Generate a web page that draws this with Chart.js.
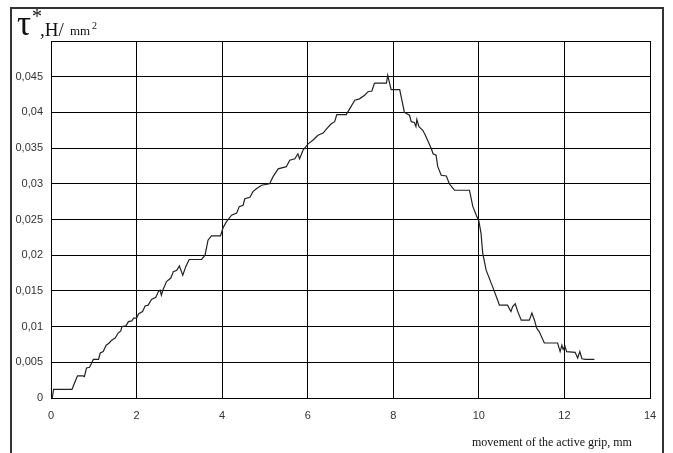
<!DOCTYPE html>
<html lang="en">
<head>
    <meta charset="UTF-8">
    <title>Shear stress vs grip movement</title>
    <script src="https://cdn.jsdelivr.net/npm/chart.js"></script>
    <style>
        body {
            margin: 0;
            background-color: #ffffff;
        }
        #wrap {
            position: relative;
            width: 673px;
            height: 453px;
            overflow: hidden;
        }
        #frame {
            position: absolute;
            left: 10px;
            top: 7px;
            width: 654px;
            height: 470px;
            box-sizing: border-box;
            border: 2px solid #333;
        }
        .lbl {
            position: absolute;
            font-family: 'Liberation Serif', 'Times New Roman', serif;
            line-height: 1;
            color: #111;
            white-space: nowrap;
        }
    </style>
</head>
<body>
<div id="wrap">
    <div id="frame"></div>
    <canvas id="chart"></canvas>
    <span class="lbl" style="left:17px; top:6px; font-size:35px;">τ</span>
    <span class="lbl" style="left:32px; top:6px; font-size:20px;">*</span>
    <span class="lbl" style="left:40px; top:20px; font-size:19px;">,H/</span>
    <span class="lbl" style="left:70px; top:24px; font-size:13px;">mm</span>
    <span class="lbl" style="left:92px; top:21px; font-size:10px;">2</span>
    <span class="lbl" style="left:472px; top:436px; font-size:12px;">movement of the active grip, mm</span>
</div>

<script>
    // movement of the active grip, mm
    const gripMovement = [
        0, 0.03, 0.06, 0.49, 0.55, 0.62, 0.75, 0.78, 0.83, 0.9,
        0.95, 0.99, 1.11, 1.15, 1.22, 1.29, 1.36, 1.42, 1.5, 1.57,
        1.63, 1.66, 1.75, 1.81, 1.89, 1.93, 2.0, 2.05, 2.14, 2.2,
        2.27, 2.35, 2.45, 2.51, 2.55, 2.58, 2.62, 2.7, 2.8, 2.86,
        2.94, 3.0, 3.08, 3.15, 3.23, 3.52, 3.6, 3.67, 3.75, 3.96,
        4.02, 4.1, 4.22, 4.34, 4.4, 4.49, 4.53, 4.65, 4.72, 4.8,
        4.92, 5.11, 5.19, 5.31, 5.5, 5.58, 5.7, 5.77, 5.81, 5.89,
        6.01, 6.12, 6.24, 6.36, 6.44, 6.55, 6.63, 6.68, 6.9, 6.98,
        7.1, 7.21, 7.33, 7.41, 7.5, 7.56, 7.84, 7.87, 7.95, 8.15,
        8.26, 8.38, 8.42, 8.49, 8.53, 8.55, 8.6, 8.69, 8.75, 8.89,
        8.93, 9.0, 9.04, 9.12, 9.24, 9.31, 9.43, 9.78, 9.86, 9.94,
        10.0, 10.05, 10.09, 10.17, 10.32, 10.44, 10.48, 10.67, 10.75, 10.79,
        10.85, 10.91, 10.99, 11.18, 11.24, 11.3, 11.35, 11.41, 11.53, 11.84,
        11.9, 11.94, 11.97, 12.01, 12.05, 12.25, 12.31, 12.36, 12.41, 12.49,
        12.7
    ];
    // tau*, H/mm2
    const shearStress = [
        0, 0, 0.0012, 0.0012, 0.0021, 0.0031, 0.0031, 0.003, 0.0042, 0.0043,
        0.0049, 0.0054, 0.0054, 0.0063, 0.0065, 0.0074, 0.0077, 0.0081, 0.0084, 0.0091,
        0.0094, 0.01, 0.0101, 0.0107, 0.0108, 0.0112, 0.0112, 0.0118, 0.0121, 0.0129,
        0.013, 0.0138, 0.0141, 0.0149, 0.0151, 0.0144, 0.0152, 0.0163, 0.0168, 0.0177,
        0.0179, 0.0185, 0.0172, 0.0184, 0.0194, 0.0194, 0.02, 0.0221, 0.0227, 0.0227,
        0.0238, 0.0247, 0.0256, 0.0259, 0.0268, 0.027, 0.0279, 0.0281, 0.0289, 0.0293,
        0.0298, 0.03, 0.031, 0.0321, 0.0324, 0.0333, 0.0335, 0.0342, 0.0335, 0.0347,
        0.0356, 0.0361, 0.0368, 0.0371, 0.0377, 0.0384, 0.0387, 0.0397, 0.0397, 0.0405,
        0.0417, 0.0419, 0.0424, 0.0429, 0.043, 0.0441, 0.0441, 0.0452, 0.0432, 0.0432,
        0.04, 0.0396, 0.0387, 0.0386, 0.038, 0.039, 0.038, 0.0375, 0.0368, 0.0349,
        0.0342, 0.034, 0.0324, 0.0312, 0.0311, 0.03, 0.0291, 0.0291, 0.0268, 0.0256,
        0.0248, 0.0231, 0.0203, 0.0179, 0.0156, 0.0137, 0.013, 0.013, 0.0121, 0.0128,
        0.0132, 0.0121, 0.0109, 0.0109, 0.0119, 0.0109, 0.0098, 0.0093, 0.0077, 0.0077,
        0.0065, 0.0074, 0.0068, 0.0073, 0.0065, 0.0064, 0.0056, 0.0065, 0.0055, 0.0054,
        0.0054
    ];

    const xTicks = [0, 2, 4, 6, 8, 10, 12, 14];
    const xTickLabels = ['0', '2', '4', '6', '8', '10', '12', '14'];
    const yTicks = [0, 0.005, 0.01, 0.015, 0.02, 0.025, 0.03, 0.035, 0.04, 0.045, 0.05];
    const yTickLabels = ['0', '0,005', '0,01', '0,015', '0,02', '0,025', '0,03', '0,035', '0,04', '0,045', ''];

    const points = gripMovement.map((x, i) => ({ x: x, y: shearStress[i] }));

    Chart.defaults.font.family = "'Liberation Sans', Arial, sans-serif";
    Chart.defaults.font.size = 11;
    Chart.defaults.color = '#333';

    const canvas = document.getElementById('chart');
    canvas.width = 673;
    canvas.height = 453;

    new Chart(canvas.getContext('2d'), {
        type: 'line',
        data: {
            datasets: [{
                data: points,
                borderColor: '#222',
                borderWidth: 1.2,
                pointRadius: 0,
                fill: false,
                tension: 0
            }]
        },
        options: {
            responsive: false,
            animation: false,
            layout: {
                padding: { left: 0, top: 41, right: 23, bottom: 25 }
            },
            plugins: {
                legend: { display: false },
                tooltip: { enabled: false }
            },
            scales: {
                x: {
                    type: 'linear',
                    min: 0,
                    max: 14,
                    afterBuildTicks: s => { s.ticks = xTicks.map(v => ({ value: v })); },
                    afterFit: s => { s.height = 30; },
                    ticks: {
                        callback: (v, i) => xTickLabels[i],
                        maxRotation: 0,
                        padding: 11
                    },
                    grid: { color: '#000', lineWidth: 1, drawTicks: false },
                    border: { color: '#000', width: 1 }
                },
                y: {
                    min: 0,
                    max: 0.05,
                    afterBuildTicks: s => { s.ticks = yTicks.map(v => ({ value: v })); },
                    afterFit: s => { s.width = 51; },
                    ticks: {
                        callback: (v, i) => yTickLabels[i],
                        padding: 8
                    },
                    grid: { color: '#000', lineWidth: 1, drawTicks: false },
                    border: { color: '#000', width: 1 }
                }
            }
        }
    });
</script>
</body>
</html>
